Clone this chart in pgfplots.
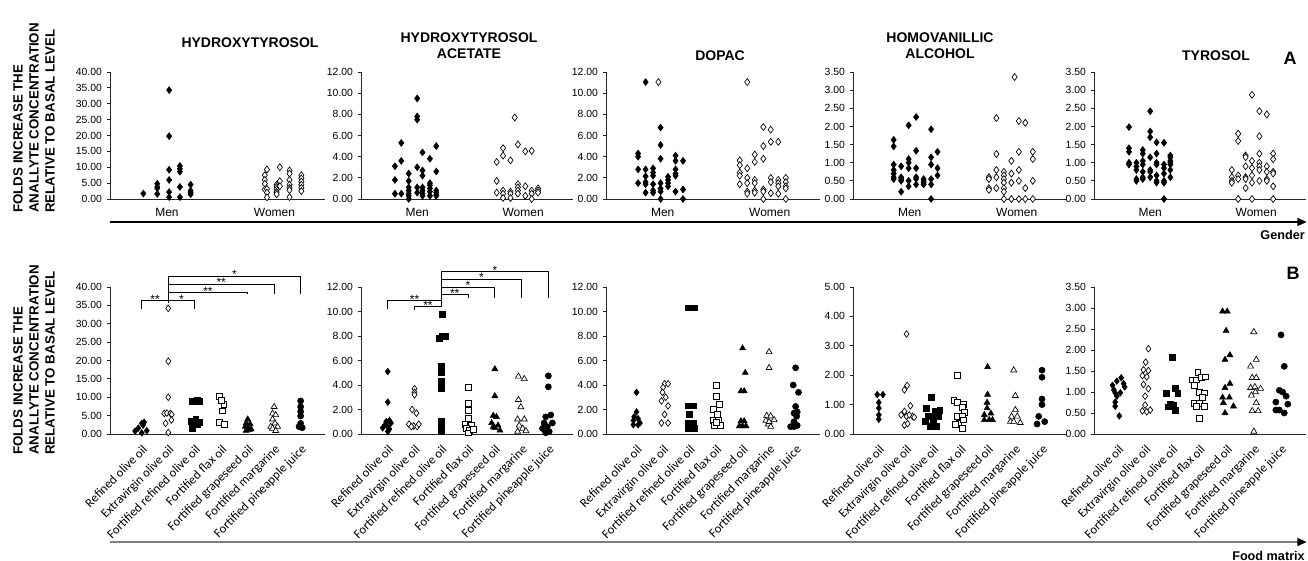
\documentclass[border=0pt]{standalone}
\usepackage{pgfplots}
\pgfplotsset{compat=1.18}
\usepackage{fontspec}
\setmainfont{Liberation Sans}
\newfontfamily\calfont{Carlito}
\usetikzlibrary{arrows.meta}

\pgfplotsset{
  panel/.style={
    scale only axis, anchor=south west,
    axis x line*=bottom, axis y line*=left,
    axis line style={-, line width=0.7pt, black!85},
    clip=false, ymin=0,
    tick align=outside, major tick length=2.5pt,
    xtick style={draw=none},
    ytick style={line width=0.6pt, black!85},
    y tick label style={font=\fontsize{7.8}{9}\selectfont,
      /pgf/number format/.cd, fixed, fixed zerofill, precision=2, assume math mode=true},
  },
  toprow/.style={panel, height=95.25pt, xmin=0.47, xmax=2.47,
    xtick={1,2}, xticklabels={Men,Women},
    x tick label style={font=\fontsize{9}{10}\selectfont, yshift=-1pt}},
  botrow/.style={panel, height=110.25pt, xmax=7.92, xtick={1,...,7},
    xticklabels={Refined olive oil, Extravirgin olive oil, Fortified refined olive oil,
      Fortified flax oil, Fortified grapeseed oil, Fortified margarine, Fortified pineapple juice},
    x tick label style={font=\calfont\fontsize{9.5}{11}\selectfont, rotate=45, anchor=north east}},
  men/.style={only marks, black, mark=diamond*, mark size=2.6pt},
  women/.style={only marks, black, mark=diamond*, mark size=2.6pt, mark options={fill=white, line width=0.5pt}},
  fdia/.style={only marks, black, mark=diamond*, mark size=2.5pt},
  odia/.style={only marks, black, mark=diamond*, mark size=2.5pt, mark options={fill=white, line width=0.5pt}},
  fsq/.style={only marks, black, mark=square*, mark size=2.2pt},
  osq/.style={only marks, black, mark=square*, mark size=2.2pt, mark options={fill=white, line width=0.5pt}},
  ftri/.style={only marks, black, mark=triangle*, mark size=2.6pt},
  otri/.style={only marks, black, mark=triangle*, mark size=2.6pt, mark options={fill=white, line width=0.5pt}},
  fcirc/.style={only marks, black, mark=*, mark size=2.3pt},
}
\tikzset{
  ttl/.style={font=\bfseries\fontsize{10.5}{12}\selectfont, align=center},
  sig/.style={anchor=base, inner sep=0pt, yshift=-2.2pt, font=\fontsize{9}{9}\selectfont},
  brk/.style={line width=0.7pt},
}

\begin{document}
\begin{tikzpicture}
\useasboundingbox (0,0) rectangle (981pt,420pt);

% ---------- row A: gender ----------
\begin{axis}[toprow, width=161.25pt, at={(82.5pt,270.75pt)}, ymax=40, ytick={0,5,...,40}]
\addplot[men] coordinates {(0.78,1.7) (0.91,4.8) (0.91,3.8) (0.91,3.4) (0.91,1.6)
 (1.02,34.3) (1.02,19.8) (1.02,9.2) (1.02,6.0) (1.02,2.2) (1.02,0.6)
 (1.12,10.4) (1.12,9.5) (1.12,8.6) (1.12,3.8) (1.12,0.6)
 (1.22,4.5) (1.22,2.6) (1.22,2.0) (1.22,1.5)};
\addplot[women] coordinates {(1.91,7.5) (1.91,6.0) (1.91,4.8) (1.91,3.0)
 (2.02,4.5) (2.02,3.8) (2.02,3.0) (2.02,2.2) (2.02,1.5)
 (1.93,9.3) (1.93,3.2) (1.93,2.0) (1.93,0.5)
 (2.05,10.0) (2.05,5.6) (2.05,4.0)
 (2.14,9.0) (2.14,8.0) (2.14,6.0) (2.14,4.5) (2.14,3.5) (2.14,2.8) (2.14,0.6)
 (2.25,7.5) (2.25,6.5) (2.25,5.5) (2.25,4.5) (2.25,3.5) (2.25,2.5)};
\end{axis}

\begin{axis}[toprow, width=159pt, at={(270.75pt,270.75pt)}, ymax=12, ytick={0,2,...,12}]
\addplot[men] coordinates {(0.79,3.1) (0.79,1.8) (0.79,0.5)
 (0.85,5.3) (0.85,3.6) (0.85,0.5)
 (0.92,2.4) (0.92,1.7) (0.92,1.1) (0.92,0.8) (0.92,0.5) (0.92,0.3) (0.92,0.0)
 (1.0,9.5) (1.0,7.8) (1.0,7.5) (1.0,3.0) (1.0,1.1) (1.0,0.6)
 (1.05,4.4) (1.05,2.7) (1.05,2.2) (1.05,1.1) (1.05,0.8) (1.05,0.5) (1.05,0.3)
 (1.12,3.8) (1.12,1.5) (1.12,1.3) (1.12,1.0) (1.12,0.7) (1.12,0.3)
 (1.18,5.0) (1.18,2.6) (1.18,0.8) (1.18,0.6) (1.18,0.4) (1.18,0.3)};
\addplot[women] coordinates {(1.75,3.5) (1.75,1.7) (1.75,0.6)
 (1.81,4.8) (1.81,4.1) (1.81,0.8) (1.81,0.5) (1.81,0.1)
 (1.88,3.65) (1.88,0.7) (1.88,0.5) (1.88,0.1)
 (1.92,7.7)
 (1.95,5.15) (1.95,1.4) (1.95,1.1) (1.95,0.8) (1.95,0.5)
 (2.02,4.5) (2.02,1.2) (2.02,0.3)
 (2.08,4.55) (2.08,0.8) (2.08,0.5) (2.08,0.0)
 (2.14,1.0) (2.14,0.8) (2.14,0.6)};
\end{axis}

\begin{axis}[toprow, width=160.5pt, at={(454.5pt,270.75pt)}, ymax=12, ytick={0,2,...,12}]
\addplot[men] coordinates {(0.77,4.3) (0.77,4.0) (0.77,2.8) (0.77,1.5)
 (0.84,11.05) (0.84,2.8) (0.84,2.15) (0.84,1.6) (0.84,1.4) (0.84,0.6)
 (0.91,2.9) (0.91,2.5) (0.91,2.2) (0.91,1.4) (0.91,0.8) (0.91,0.6)
 (0.98,6.75) (0.98,5.1) (0.98,3.8) (0.98,1.5) (0.98,1.0) (0.98,0.7) (0.98,0.0)
 (1.05,2.1) (1.05,1.8) (1.05,1.5) (1.05,1.2)
 (1.12,4.1) (1.12,3.6) (1.12,2.8) (1.12,2.4) (1.12,2.2) (1.12,0.7)
 (1.19,3.6) (1.19,0.9) (1.19,0.0)};
\addplot[women] coordinates {(0.96,11.05)
 (1.72,3.65) (1.72,3.2) (1.72,2.5) (1.72,2.2) (1.72,1.4)
 (1.79,11.05) (1.79,2.9) (1.79,2.0) (1.79,1.5) (1.79,0.7) (1.79,0.5)
 (1.86,4.2) (1.86,3.5) (1.86,1.8) (1.86,1.5) (1.86,0.8) (1.86,0.6)
 (1.94,6.8) (1.94,5.0) (1.94,3.8) (1.94,0.9) (1.94,0.7) (1.94,0.0)
 (2.01,6.55) (2.01,5.4) (2.01,2.0) (2.01,1.6) (2.01,0.55)
 (2.08,5.4) (2.08,1.8) (2.08,1.5) (2.08,1.2) (2.08,0.5)
 (2.15,2.0) (2.15,1.6) (2.15,1.2) (2.15,1.0) (2.15,0.0)};
\end{axis}

\begin{axis}[toprow, width=160.5pt, at={(639.75pt,270.75pt)}, ymax=3.5, ytick={0,0.5,...,3.5}]
\addplot[men] coordinates {(0.85,1.63) (0.85,1.45) (0.85,0.95) (0.85,0.8) (0.85,0.7) (0.85,0.6) (0.85,0.55)
 (0.92,0.9) (0.92,0.6) (0.92,0.55) (0.92,0.5) (0.92,0.2)
 (0.99,2.03) (0.99,1.1) (0.99,1.0) (0.99,0.85) (0.99,0.5) (0.99,0.35)
 (1.06,2.26) (1.06,1.33) (1.06,0.85) (1.06,0.6) (1.06,0.55) (1.06,0.4)
 (1.13,0.55) (1.13,0.5) (1.13,0.45) (1.13,0.4)
 (1.2,1.92) (1.2,1.15) (1.2,0.95) (1.2,0.55) (1.2,0.4) (1.2,0.0)
 (1.26,1.3) (1.26,0.85) (1.26,0.65)};
\addplot[women] coordinates {(1.74,0.6) (1.74,0.55) (1.74,0.3) (1.74,0.25)
 (1.81,2.23) (1.81,1.24) (1.81,0.8) (1.81,0.6) (1.81,0.3)
 (1.88,0.75) (1.88,0.65) (1.88,0.55) (1.88,0.45) (1.88,0.3) (1.88,0.2) (1.88,0.0)
 (1.95,1.05) (1.95,0.7) (1.95,0.45) (1.95,0.0)
 (1.98,3.36)
 (2.02,2.15) (2.02,1.3) (2.02,0.8) (2.02,0.5) (2.02,0.0)
 (2.08,2.1) (2.08,0.3) (2.08,0.0)
 (2.15,1.3) (2.15,1.1) (2.15,0.5) (2.15,0.0)};
\end{axis}

\begin{axis}[toprow, width=159pt, at={(820.5pt,270.75pt)}, ymax=3.5, ytick={0,0.5,...,3.5}]
\addplot[men] coordinates {(0.8,1.98) (0.8,1.4) (0.8,1.3) (0.8,1.0) (0.8,0.95)
 (0.87,1.0) (0.87,0.9) (0.87,0.8) (0.87,0.55) (0.87,0.5)
 (0.93,1.35) (0.93,1.25) (0.93,1.05) (0.93,0.95) (0.93,0.75) (0.93,0.6) (0.93,0.55)
 (1.0,2.42) (1.0,1.86) (1.0,1.7) (1.0,1.15) (1.0,0.8) (1.0,0.75) (1.0,0.6)
 (1.06,1.56) (1.06,1.25) (1.06,1.0) (1.06,0.95) (1.06,0.65) (1.06,0.5) (1.06,0.45)
 (1.13,1.55) (1.13,0.95) (1.13,0.85) (1.13,0.7) (1.13,0.5) (1.13,0.45) (1.13,0.0)
 (1.19,1.2) (1.19,1.15) (1.19,1.05) (1.19,1.0) (1.19,0.95) (1.19,0.8) (1.19,0.6)};
\addplot[women] coordinates {(1.77,0.8) (1.77,0.6) (1.77,0.5) (1.77,0.45)
 (1.83,1.8) (1.83,1.6) (1.83,0.65) (1.83,0.55) (1.83,0.0)
 (1.9,1.2) (1.9,1.15) (1.9,0.9) (1.9,0.6) (1.9,0.55) (1.9,0.3)
 (1.96,2.87) (1.96,1.05) (1.96,0.85) (1.96,0.65) (1.96,0.45) (1.96,0.0)
 (2.03,2.42) (2.03,1.73) (2.03,1.25) (2.03,1.0) (2.03,0.9) (2.03,0.8) (2.03,0.5)
 (2.1,2.33) (2.1,0.9) (2.1,0.75) (2.1,0.55) (2.1,0.5)
 (2.16,1.25) (2.16,1.1) (2.16,0.75) (2.16,0.7) (2.16,0.35) (2.16,0.0)};
\end{axis}

% ---------- row B: food matrix ----------
\begin{axis}[botrow, width=161.25pt, at={(82.5pt,94.5pt)}, xmin=-0.2, ymax=40, ytick={0,5,...,40}]
\addplot[fdia] coordinates {(0.75,0.8) (0.87,1.6) (1.0,2.9) (1.09,3.2) (1.05,2.4) (1.19,0.9) (1.0,0.3)};
\addplot[odia] coordinates {(2,34.2) (2,19.8) (2,10.0) (1.85,5.6) (1.95,5.7) (2.08,5.6) (2.13,5.3) (1.9,2.9) (2.12,3.8) (2,0.4)};
\addplot[fsq] coordinates {(2.9,9.0) (3.1,9.2) (3.16,9.0) (3.0,8.8) (2.85,3.5) (3.04,4.0) (3.16,3.1) (2.9,1.5) (3.1,2.5) (3.0,3.0)};
\addplot[osq] coordinates {(3.94,10.3) (4.1,8.1) (4.0,9.2) (4.04,6.3) (3.94,3.1) (4.13,2.7)};
\addplot[ftri] coordinates {(5.0,4.0) (4.94,2.9) (5.09,2.7) (4.91,2.0) (5.0,1.5) (5.13,1.3) (4.94,0.9) (5.06,1.1)};
\addplot[otri] coordinates {(6.0,7.4) (5.94,5.6) (6.06,5.2) (5.94,4.0) (6.03,2.9) (5.87,2.0) (6.13,2.0) (5.94,1.5) (6.06,0.9)};
\addplot[fcirc] coordinates {(7,9.0) (7,7.4) (7,6.1) (7,4.9) (6.94,2.0) (7.06,1.7) (7,2.9)};
\draw[brk] (axis cs:1,34) -- (axis cs:1,36.2) -- (axis cs:3,36.2) -- (axis cs:3,34);
\draw[brk] (axis cs:2,35.6) -- (axis cs:2,43.0);
\draw[brk] (axis cs:2,38.6) -- (axis cs:5,38.6) -- (axis cs:5,38.1);
\draw[brk] (axis cs:2,40.8) -- (axis cs:6,40.8) -- (axis cs:6,38.1);
\draw[brk] (axis cs:2,43.0) -- (axis cs:7,43.0) -- (axis cs:7,38.1);
\node[sig] at (axis cs:1.5,36.2) {**};
\node[sig] at (axis cs:2.5,36.2) {*};
\node[sig] at (axis cs:3.5,38.6) {**};
\node[sig] at (axis cs:4.0,40.8) {**};
\node[sig] at (axis cs:4.5,43.0) {*};
\end{axis}

\begin{axis}[botrow, width=159pt, at={(270.75pt,94.5pt)}, xmin=0, ymax=12, ytick={0,2,...,12}]
\addplot[fdia] coordinates {(1,5.1) (1,2.6) (0.94,1.0) (1.06,1.1) (0.88,0.7) (1,0.6) (1.12,0.9) (0.81,0.5) (1.06,0.4) (1,0.2)};
\addplot[odia] coordinates {(2,3.7) (2,3.4) (2,3.2) (1.91,2.0) (2.07,1.7) (1.79,0.8) (1.97,0.65) (2.1,0.6) (2.16,0.8) (1.88,0.6)};
\addplot[fsq] coordinates {(3.04,9.8) (2.91,7.8) (3.04,8.0) (3.16,8.0) (3,5.5) (3,5.0) (3,4.3) (3,3.7) (3,1.05) (3,0.6) (3,0.2)};
\addplot[osq] coordinates {(4,3.8) (4,2.5) (4,1.9) (4,1.3) (3.88,0.8) (4.12,0.7) (3.94,0.45) (4.06,0.3) (4,0.1) (4.19,0.4)};
\addplot[ftri] coordinates {(5,5.3) (5,3.1) (4.94,1.5) (5.06,1.4) (4.88,0.9) (5.12,0.7) (4.94,0.6) (5,0.5) (5.19,0.3)};
\addplot[otri] coordinates {(5.88,4.7) (6.1,4.5) (5.88,2.8) (5.97,2.2) (5.85,1.2) (6.1,1.2) (5.91,0.7) (6.04,0.45) (5.85,0.2) (6.16,0.25)};
\addplot[fcirc] coordinates {(7,4.75) (7,3.85) (6.9,1.4) (7.09,1.55) (6.84,0.9) (7.15,0.9) (6.96,0.6) (6.78,0.45) (7.03,0.2) (6.9,0.1)};
\draw[brk] (axis cs:1,10.2) -- (axis cs:1,10.9) -- (axis cs:3,10.9);
\draw[brk] (axis cs:2,10.1) -- (axis cs:2,10.4) -- (axis cs:3,10.4);
\draw[brk] (axis cs:3,10.4) -- (axis cs:3,13.3);
\draw[brk] (axis cs:3,11.4) -- (axis cs:4,11.4) -- (axis cs:4,11.1);
\draw[brk] (axis cs:3,12.0) -- (axis cs:5,12.0) -- (axis cs:5,11.1);
\draw[brk] (axis cs:3,12.65) -- (axis cs:6,12.65) -- (axis cs:6,11.1);
\draw[brk] (axis cs:3,13.3) -- (axis cs:7,13.3) -- (axis cs:7,11.1);
\node[sig] at (axis cs:2.0,10.9) {**};
\node[sig] at (axis cs:2.5,10.4) {**};
\node[sig] at (axis cs:3.5,11.4) {**};
\node[sig] at (axis cs:4.0,12.0) {*};
\node[sig] at (axis cs:4.5,12.65) {*};
\node[sig] at (axis cs:5.0,13.3) {*};
\end{axis}

\begin{axis}[botrow, width=160.5pt, at={(454.5pt,94.5pt)}, xmin=-0.15, ymax=12, ytick={0,2,...,12}]
\addplot[fdia] coordinates {(1,3.4) (1,1.8) (0.91,1.4) (1.06,1.25) (0.88,1.1) (1.13,0.9) (0.88,0.75) (1.06,0.75)};
\addplot[odia] coordinates {(2.06,4.1) (2.19,4.1) (2,3.8) (1.98,3.4) (2.1,3.0) (1.94,2.7) (2.19,2.3) (2.06,1.6) (1.94,0.9) (2.19,0.9)};
\addplot[fsq] coordinates {(2.94,10.3) (3.06,10.3) (3.19,10.3) (2.94,2.3) (3.13,2.3) (3,1.6) (2.94,0.9) (3.13,0.9) (3,0.7) (2.94,0.5) (3.19,0.5)};
\addplot[osq] coordinates {(4,4.0) (4,3.1) (4.13,2.45) (3.91,2.0) (4.04,1.6) (3.88,1.1) (4.1,1.1) (4.16,0.7) (3.94,0.7) (4,0.95)};
\addplot[ftri] coordinates {(5,7.0) (5.1,5.0) (4.94,3.5) (5.06,3.5) (4.94,1.05) (5.06,1.05) (4.88,0.65) (5,0.65) (5.13,0.65)};
\addplot[otri] coordinates {(6,6.7) (6,5.4) (5.91,1.5) (6.06,1.45) (6.19,1.15) (5.88,1.1) (5.97,0.8) (6.06,0.6) (6,1.0)};
\addplot[fcirc] coordinates {(7,5.4) (6.91,4.0) (7.11,3.4) (7,2.25) (7.06,1.8) (6.94,1.7) (7.04,1.45) (6.94,1.0) (7.06,0.7) (6.81,0.6) (6.94,0.6)};
\end{axis}

\begin{axis}[botrow, width=160.5pt, at={(639.75pt,94.5pt)}, xmin=0.05, ymax=5, ytick={0,1,...,5}]
\addplot[fdia] coordinates {(0.94,1.34) (1.15,1.34) (1,1.07) (1,0.88) (1,0.65) (1,0.5)};
\addplot[odia] coordinates {(2.02,3.4) (2.04,1.65) (1.94,1.5) (2.16,0.96) (1.94,0.77) (1.82,0.65) (2.02,0.6) (2.24,0.6) (2.12,0.65) (1.94,0.3) (2.06,0.35) (2.3,0.57)};
\addplot[fsq] coordinates {(2.94,1.25) (2.73,0.88) (3.24,0.82) (3.06,0.77) (2.82,0.6) (3,0.6) (3.18,0.6) (2.7,0.42) (2.9,0.25) (3.12,0.25) (3,0.42)};
\addplot[osq] coordinates {(3.88,2.0) (3.76,1.14) (3.88,1.07) (4.12,1.0) (4.06,0.9) (4.15,0.73) (3.88,0.6) (4.06,0.6) (3.94,0.38) (3.82,0.33) (4.1,0.48) (4.06,0.2)};
\addplot[ftri] coordinates {(5,2.28) (5,1.34) (4.98,1.07) (4.98,0.88) (4.88,0.65) (5.12,0.7) (4.88,0.48) (5.06,0.48) (5.18,0.48)};
\addplot[otri] coordinates {(5.96,2.17) (6.02,1.3) (6.02,0.82) (5.88,0.6) (6.09,0.6) (6.2,0.38) (5.84,0.42) (5.96,0.42)};
\addplot[fcirc] coordinates {(7,2.17) (7,1.93) (7,1.19) (7,1.0) (6.88,0.6) (6.82,0.34) (7.1,0.42)};
\end{axis}

\begin{axis}[botrow, width=159pt, at={(820.5pt,94.5pt)}, xmin=0.12, ymax=3.5, ytick={0,0.5,...,3.5}]
\addplot[fdia] coordinates {(0.8,1.16) (0.96,1.26) (1.12,1.34) (1.21,1.2) (1.25,1.12) (0.9,0.98) (1.09,0.98) (0.96,0.9) (0.9,0.76) (0.9,0.66) (1.05,0.43) (0.85,1.05)};
\addplot[odia] coordinates {(2.12,2.03) (2.02,1.71) (1.94,1.53) (2.12,1.51) (1.9,1.39) (2.06,1.36) (1.94,1.18) (2.12,1.08) (2,0.9) (2,0.69) (1.9,0.55) (2.06,0.53) (2.19,0.57)};
\addplot[fsq] coordinates {(3,1.83) (2.79,0.98) (3.1,1.08) (3.2,0.98) (2.85,0.65) (3.1,0.57) (2.94,0.72) (3.04,0.69)};
\addplot[osq] coordinates {(3.94,1.47) (3.75,1.29) (3.9,1.29) (4.06,1.34) (4.22,1.36) (3.81,1.16) (4,1.0) (4.19,0.98) (4.12,0.87) (3.81,0.74) (4,0.74) (3.88,0.65) (4.19,0.65) (4,0.37)};
\addplot[ftri] coordinates {(4.85,2.92) (5.02,2.92) (4.98,2.46) (4.94,1.77) (5.12,1.88) (4.94,1.1) (5.12,1.2) (4.85,0.87) (5.1,0.87) (4.88,0.74) (5.25,0.66) (4.94,0.5)};
\addplot[otri] coordinates {(6,2.43) (6.09,1.77) (5.88,1.61) (5.94,1.34) (6.09,1.34) (5.88,1.1) (6.04,1.12) (6.25,1.08) (5.91,0.92) (6.09,0.74) (5.94,0.55) (6.16,0.55) (6,0.06) (6.06,1.0)};
\addplot[fcirc] coordinates {(7,2.36) (7.12,1.61) (6.94,1.04) (7.06,1.0) (7.19,0.9) (6.81,0.76) (7.25,0.71) (6.81,0.57) (6.94,0.57) (7.12,0.5)};
\end{axis}

% ---------- titles, labels, arrows ----------
\node[ttl] at (187.5pt,387.75pt) {HYDROXYTYROSOL};
\node[ttl] at (351.75pt,385.9pt) {HYDROXYTYROSOL\\ACETATE};
\node[ttl] at (540pt,378pt) {DOPAC};
\node[ttl] at (705pt,385.9pt) {HOMOVANILLIC\\ALCOHOL};
\node[ttl] at (912pt,378pt) {TYROSOL};
\node[font=\bfseries\fontsize{13.5}{14}\selectfont] at (967.5pt,376.5pt) {A};
\node[font=\bfseries\fontsize{13.5}{14}\selectfont] at (969.75pt,215.25pt) {B};

\node[rotate=90, anchor=north west, align=left, inner sep=0pt,
  font=\bfseries\fontsize{10}{12}\selectfont] at (9.75pt,260.25pt)
  {FOLDS INCREASE THE\\ANALLYTE CONCENTRATION\\RELATIVE TO BASAL LEVEL};
\node[rotate=90, anchor=north west, align=left, inner sep=0pt,
  font=\bfseries\fontsize{10}{12}\selectfont] at (9.75pt,78.75pt)
  {FOLDS INCREASE THE\\ANALLYTE CONCENTRATION\\RELATIVE TO BASAL LEVEL};

\draw[line width=1.1pt, -{Triangle[length=7pt,width=6pt]}] (82.5pt,253.5pt) -- (980pt,253.5pt);
\node[anchor=east, inner sep=0pt, font=\bfseries\fontsize{9.5}{11}\selectfont] at (978.75pt,243.75pt) {Gender};
\draw[line width=1.1pt, black!50, -{Triangle[length=7pt,width=6pt,color=black]}] (82.5pt,13.5pt) -- (980pt,13.5pt);
\node[anchor=east, inner sep=0pt, font=\bfseries\fontsize{9.5}{11}\selectfont] at (978.75pt,3pt) {Food matrix};
\end{tikzpicture}
\end{document}
